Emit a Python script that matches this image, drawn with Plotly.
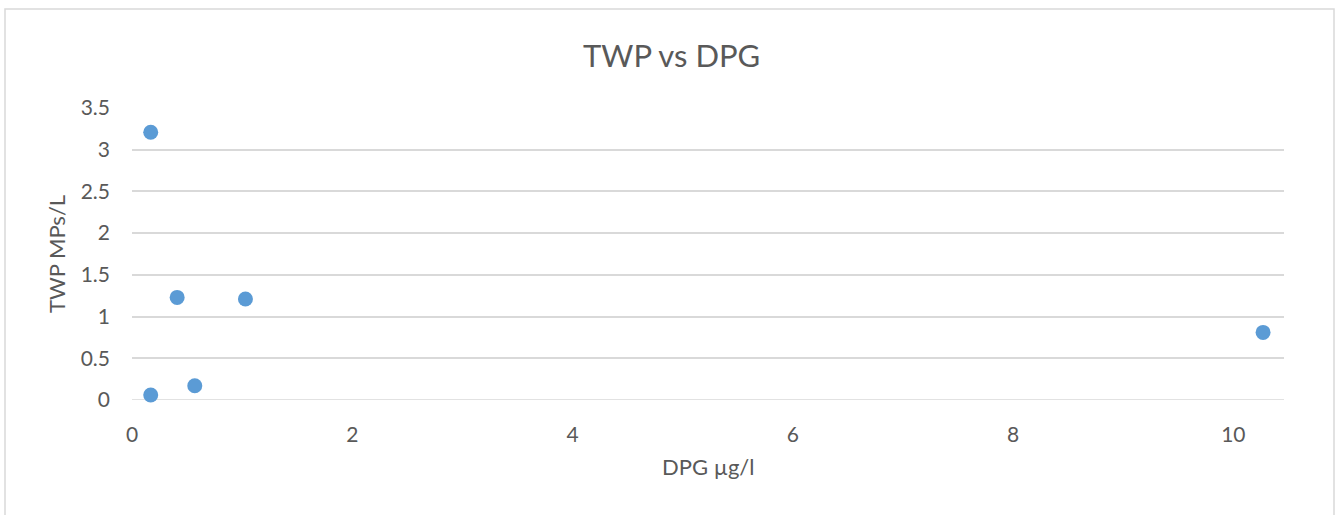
import plotly.graph_objects as go

# DPG concentration (µg/l) and TWP microplastics (MPs/L)
dpg = [0.17, 0.41, 1.03, 0.17, 0.57, 10.27]
twp = [3.21, 1.23, 1.21, 0.06, 0.17, 0.81]

x_ticks = [0, 2, 4, 6, 8, 10]
y_ticks = [0, 0.5, 1, 1.5, 2, 2.5, 3, 3.5]
y_tick_text = ["0", "0.5", "1", "1.5", "2", "2.5", "3", "3.5"]

W, H = 1341, 515
ml, mr, mt, mb = 132, 57, 108, 115
pw, ph = W - ml - mr, H - mt - mb

def px_to_paper_x(px):
    return (px - ml) / pw

def px_to_paper_y(py):
    return (H - mb - py) / ph

text_color = "#595959"
grid_color = "#D9D9D9"
font_family = "Lato, 'Open Sans', sans-serif"

fig = go.Figure()
fig.add_trace(go.Scatter(
    x=dpg, y=twp, mode="markers",
    marker=dict(color="#5B9BD5", size=15, line=dict(width=0)),
    showlegend=False, cliponaxis=False,
))

fig.update_layout(
    width=W, height=H,
    margin=dict(l=ml, r=mr, t=mt, b=mb),
    paper_bgcolor="white", plot_bgcolor="white",
    font=dict(family=font_family, color=text_color, size=21),
    xaxis=dict(
        range=[0, 10.46], tickvals=x_ticks, showgrid=False,
        zeroline=False, showline=False, ticks="",
        tickfont=dict(size=21, color=text_color),
        ticklabelstandoff=20,
    ),
    yaxis=dict(
        range=[0, 3.5], tickvals=y_ticks, ticktext=y_tick_text,
        showgrid=True, gridcolor=grid_color, gridwidth=1.5,
        zeroline=False, showline=False, ticks="",
        tickfont=dict(size=21, color=text_color),
        ticklabelstandoff=21,
    ),
    annotations=[
        dict(text="TWP vs DPG", xref="paper", yref="paper",
             x=px_to_paper_x(671), y=px_to_paper_y(55),
             xanchor="center", yanchor="middle", showarrow=False,
             font=dict(size=31, color=text_color, family=font_family)),
        dict(text="DPG µg/l", xref="paper", yref="paper",
             x=px_to_paper_x(708), y=px_to_paper_y(466),
             xanchor="center", yanchor="middle", showarrow=False,
             font=dict(size=22, color=text_color, family=font_family)),
        dict(text="TWP MPs/L", xref="paper", yref="paper",
             x=px_to_paper_x(56), y=px_to_paper_y(254),
             xanchor="center", yanchor="middle", showarrow=False, textangle=-90,
             font=dict(size=22, color=text_color, family=font_family)),
    ],
    shapes=[
        # chart frame
        dict(type="rect", xref="paper", yref="paper",
             x0=px_to_paper_x(5), x1=px_to_paper_x(1334),
             y0=px_to_paper_y(530), y1=px_to_paper_y(9),
             line=dict(color=grid_color, width=1.5), layer="below"),
        # baseline at zero
        dict(type="line", xref="paper", yref="y", x0=0, x1=1, y0=0, y1=0,
             line=dict(color=grid_color, width=1.5), layer="below"),
    ],
)

fig.write_html("out.html")
